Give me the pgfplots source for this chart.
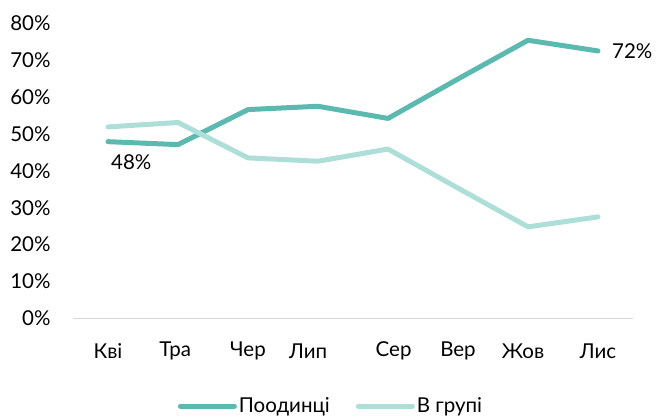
\documentclass[border=0pt]{standalone}
\usepackage{pgfplots}
\pgfplotsset{compat=1.18}
\usepackage{fontspec}
\setmainfont{Lato}
\definecolor{dark}{HTML}{5BB9B0}
\definecolor{light}{HTML}{AEDED8}
\definecolor{axisgray}{HTML}{D9D9D9}
\newcommand{\chartfont}{\fontsize{20.5}{23}\selectfont}
\begin{document}
\begin{tikzpicture}
\begin{axis}[
  scale only axis, width=560pt, height=295pt,
  xmin=-0.5, xmax=7.5, ymin=0, ymax=80,
  axis line style={draw=none}, tick style={draw=none},
  xtick={0,0.96,2,2.86,4.08,5,5.93,7},
  xticklabels={Кві,Тра,Чер,Лип,Сер,Вер,Жов,Лис},
  ytick={0,10,...,80},
  yticklabel={\pgfmathprintnumber{\tick}\%},
  /pgf/number format/assume math mode=true,
  ticklabel style={font=\chartfont, text=black},
  yticklabel style={anchor=east, xshift=-19pt},
  xticklabel style={anchor=center, yshift=-33pt},
  clip=false,
  legend columns=2,
  legend style={at={(rel axis cs:0.4607,-0.2973)}, anchor=center, draw=none, fill=none,
    font=\chartfont, inner sep=0pt,
    /tikz/every even column/.append style={column sep=24pt}},
  legend image code/.code={\draw[#1] (0pt,0pt) -- (54pt,0pt);},
  every axis plot/.append style={line width=5pt, line cap=round, line join=round},
]
\draw[axisgray, line width=1.3pt] (rel axis cs:0,0) -- (rel axis cs:1,0);
\addplot[dark] coordinates {(0,47.9) (1,47.1) (2,56.6) (3,57.5) (4,54.2) (5,64.9) (6,75.4) (7,72.5)};
\addlegendentry{Поодинці}
\addplot[light] coordinates {(0,51.9) (1,53.1) (2,43.5) (3,42.6) (4,45.9) (5,35.3) (6,24.8) (7,27.5)};
\addlegendentry{В групі}
\node[anchor=north west, inner sep=0pt, font=\chartfont] at (axis cs:0,47.9) [xshift=3pt, yshift=-13pt] {48\%};
\node[anchor=west, inner sep=0pt, font=\chartfont] at (axis cs:7,72.5) [xshift=14pt] {72\%};
\coordinate (bl) at (rel axis cs:-0.13036,-0.33458);
\coordinate (tr) at (rel axis cs:1.04286,1.07898);
\end{axis}
\pgfresetboundingbox
\path[use as bounding box] (bl) rectangle (tr);
\end{tikzpicture}
\end{document}
